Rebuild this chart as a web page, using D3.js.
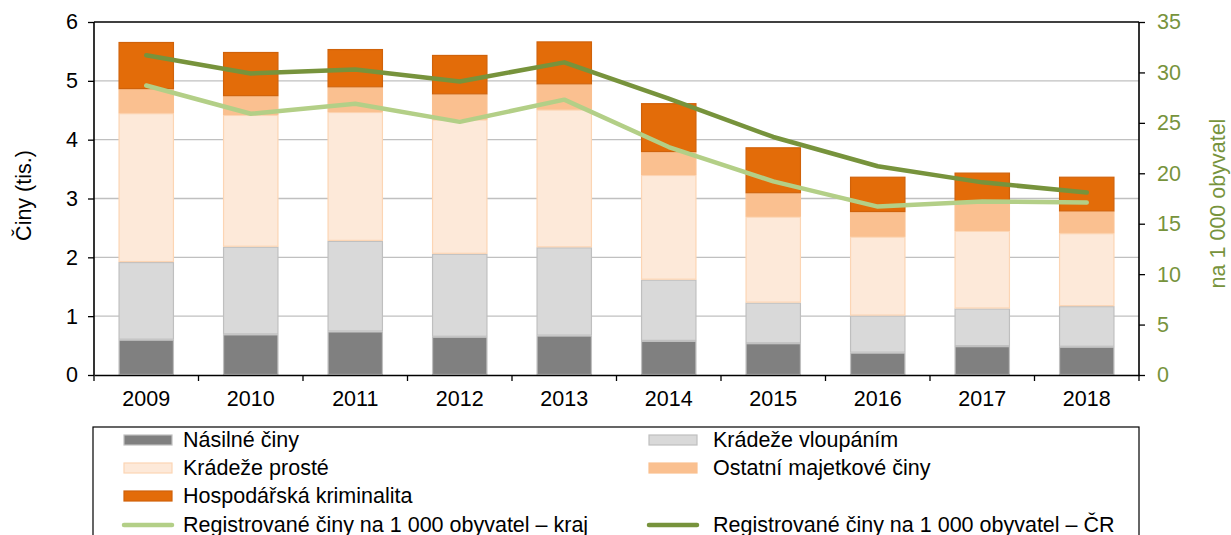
<!DOCTYPE html>
<html>
<head>
<meta charset="utf-8">
<script src="https://cdn.jsdelivr.net/npm/d3@7"></script>
<style>
  body { margin: 0; background: #fff; }
  svg { font-family: "Liberation Sans", Arial, sans-serif; }
</style>
</head>
<body>
<svg id="chart" width="1231" height="535"></svg>
<script>
// Data
var years = ['2009', '2010', '2011', '2012', '2013', '2014', '2015', '2016', '2017', '2018'];

var nasilne     = [0.60, 0.69, 0.74, 0.65, 0.67, 0.58, 0.54, 0.38, 0.49, 0.48];
var vloupanim   = [1.32, 1.49, 1.54, 1.41, 1.50, 1.04, 0.69, 0.63, 0.64, 0.69];
var proste      = [2.53, 2.24, 2.19, 2.28, 2.34, 1.78, 1.46, 1.34, 1.32, 1.24];
var ostatni     = [0.41, 0.32, 0.42, 0.43, 0.43, 0.39, 0.40, 0.42, 0.47, 0.37];
var hospodarska = [0.80, 0.75, 0.65, 0.67, 0.73, 0.83, 0.78, 0.60, 0.52, 0.59];

var krajRate = [28.7, 25.9, 26.9, 25.1, 27.3, 22.6, 19.2, 16.7, 17.2, 17.1];
var crRate   = [31.7, 29.9, 30.3, 29.1, 31.0, 27.4, 23.6, 20.7, 19.1, 18.1];

var leftTicks = [0, 1, 2, 3, 4, 5, 6];
var rightTicks = [0, 5, 10, 15, 20, 25, 30, 35];

var barSeries = [
  { name: 'Násilné činy', values: nasilne, fill: '#808080', stroke: '#bfbfbf' },
  { name: 'Krádeže vloupáním', values: vloupanim, fill: '#d9d9d9', stroke: '#bfbfbf' },
  { name: 'Krádeže prosté', values: proste, fill: '#fde9d9', stroke: '#fcd5b4' },
  { name: 'Ostatní majetkové činy', values: ostatni, fill: '#fac090', stroke: '#fac090' },
  { name: 'Hospodářská kriminalita', values: hospodarska, fill: '#e36c09', stroke: '#d0620a' }
];
var lineSeries = [
  { name: 'Registrované činy na 1 000 obyvatel – kraj', values: krajRate, color: '#b3cf87' },
  { name: 'Registrované činy na 1 000 obyvatel – ČR', values: crRate, color: '#77933c' }
];

var svg = d3.select('#chart');
var plotLeft = 94, plotRight = 1139, plotTop = 22, plotBottom = 375;
var fontSize = '21.5px';

var x = d3.scaleBand().domain(years).range([plotLeft, plotRight]).paddingInner(0.47).paddingOuter(0.235);
var xCat = d3.scaleBand().domain(years).range([plotLeft, plotRight]);
var y = d3.scaleLinear().domain([0, 6]).range([plotBottom, plotTop]);
var y2 = d3.scaleLinear().domain([0, 35]).range([plotBottom, plotTop]);

// gridlines
svg.append('g').selectAll('line')
  .data(leftTicks.slice(1, -1))
  .enter().append('line')
  .attr('x1', plotLeft).attr('x2', plotRight)
  .attr('y1', function (d) { return y(d); })
  .attr('y2', function (d) { return y(d); })
  .style('stroke', '#c0c0c0').style('stroke-width', 1.3);

// stacked bars
var stackData = years.map(function (yr, i) {
  var row = { year: yr };
  barSeries.forEach(function (s) { row[s.name] = s.values[i]; });
  return row;
});
var stack = d3.stack().keys(barSeries.map(function (s) { return s.name; }));
var layers = stack(stackData);

layers.forEach(function (layer, li) {
  var s = barSeries[li];
  svg.append('g').selectAll('rect')
    .data(layer)
    .enter().append('rect')
    .attr('x', function (d) { return x(d.data.year) + 0.5; })
    .attr('width', x.bandwidth() - 1)
    .attr('y', function (d) { return y(d[1]) + 0.5; })
    .attr('height', function (d) { return Math.max(0, y(d[0]) - y(d[1]) - 1); })
    .style('fill', s.fill)
    .style('stroke', s.stroke)
    .style('stroke-width', 1.2);
});

// lines
var lineGen = d3.line()
  .x(function (d, i) { return xCat(years[i]) + xCat.bandwidth() / 2; })
  .y(function (d) { return y2(d); });

lineSeries.forEach(function (s) {
  svg.append('path')
    .attr('d', lineGen(s.values))
    .style('fill', 'none')
    .style('stroke', s.color)
    .style('stroke-width', 4.5)
    .style('stroke-linecap', 'round')
    .style('stroke-linejoin', 'round');
});

// top border
svg.append('line').attr('x1', plotLeft).attr('x2', plotRight).attr('y1', plotTop).attr('y2', plotTop)
  .style('stroke', '#000').style('stroke-width', 1.3);

// axes
var leftAxis = d3.axisLeft(y).tickValues(leftTicks).tickSize(6).tickPadding(10).tickFormat(d3.format('d'));
var gL = svg.append('g').attr('transform', 'translate(' + plotLeft + ',0)').call(leftAxis);
gL.selectAll('text').style('font-size', fontSize).style('fill', '#000');

var rightAxis = d3.axisRight(y2).tickValues(rightTicks).tickSize(6).tickPadding(12).tickFormat(d3.format('d'));
var gR = svg.append('g').attr('transform', 'translate(' + plotRight + ',0)').call(rightAxis);
gR.selectAll('text').style('font-size', fontSize).style('fill', '#77933c');

var bottomAxis = d3.axisBottom(xCat).tickSize(0).tickPadding(16);
var gB = svg.append('g').attr('transform', 'translate(0,' + plotBottom + ')').call(bottomAxis);
gB.selectAll('text').style('font-size', fontSize).style('fill', '#000');
// category boundary ticks
gB.selectAll('.bound')
  .data(years.concat(['end']))
  .enter().append('line')
  .attr('class', 'bound')
  .attr('x1', function (d, i) { return plotLeft + i * xCat.step(); })
  .attr('x2', function (d, i) { return plotLeft + i * xCat.step(); })
  .attr('y1', 0).attr('y2', 6)
  .style('stroke', '#000').style('stroke-width', 1.3);

[gL, gR, gB].forEach(function (g) {
  g.selectAll('.domain').style('stroke', '#000').style('stroke-width', 1.6);
  g.selectAll('.tick line').style('stroke', '#000').style('stroke-width', 1.3);
});
gL.select('.domain').attr('d', 'M0,' + plotTop + 'V' + plotBottom);
gR.select('.domain').attr('d', 'M0,' + plotTop + 'V' + plotBottom);

// axis titles
svg.append('text')
  .attr('transform', 'translate(31,' + ((plotTop + plotBottom) / 2 - 3) + ') rotate(-90)')
  .attr('text-anchor', 'middle')
  .style('font-size', fontSize)
  .text('Činy (tis.)');

svg.append('text')
  .attr('transform', 'translate(1225,' + ((plotTop + plotBottom) / 2 + 5) + ') rotate(-90)')
  .attr('text-anchor', 'middle')
  .style('font-size', fontSize)
  .style('fill', '#77933c')
  .text('na 1 000 obyvatel');

// legend
var legend = svg.append('g');
legend.append('rect')
  .attr('x', 93).attr('y', 427).attr('width', 1046).attr('height', 130)
  .style('fill', '#fff').style('stroke', '#000').style('stroke-width', 1.2);

var legendItems = [
  { s: barSeries[0], type: 'bar', col: 0, row: 0 },
  { s: barSeries[1], type: 'bar', col: 1, row: 0 },
  { s: barSeries[2], type: 'bar', col: 0, row: 1 },
  { s: barSeries[3], type: 'bar', col: 1, row: 1 },
  { s: barSeries[4], type: 'bar', col: 0, row: 2 },
  { s: lineSeries[0], type: 'line', col: 0, row: 3 },
  { s: lineSeries[1], type: 'line', col: 1, row: 3 }
];
var colX = [123, 648];
var textX = [183, 713];
var rowY = [440, 468, 496, 525];

legendItems.forEach(function (it) {
  var lx = colX[it.col], ly = rowY[it.row];
  if (it.type === 'bar') {
    legend.append('rect')
      .attr('x', lx + 1).attr('y', ly - 5).attr('width', 48).attr('height', 10)
      .style('fill', it.s.fill).style('stroke', it.s.stroke).style('stroke-width', 1.2);
  } else {
    legend.append('line')
      .attr('x1', lx + 1).attr('x2', lx + 49).attr('y1', ly).attr('y2', ly)
      .style('stroke', it.s.color).style('stroke-width', 4.5).style('stroke-linecap', 'round');
  }
  legend.append('text')
    .attr('x', textX[it.col]).attr('y', ly + 7)
    .style('font-size', fontSize)
    .text(it.s.name);
});
</script>
</body>
</html>
